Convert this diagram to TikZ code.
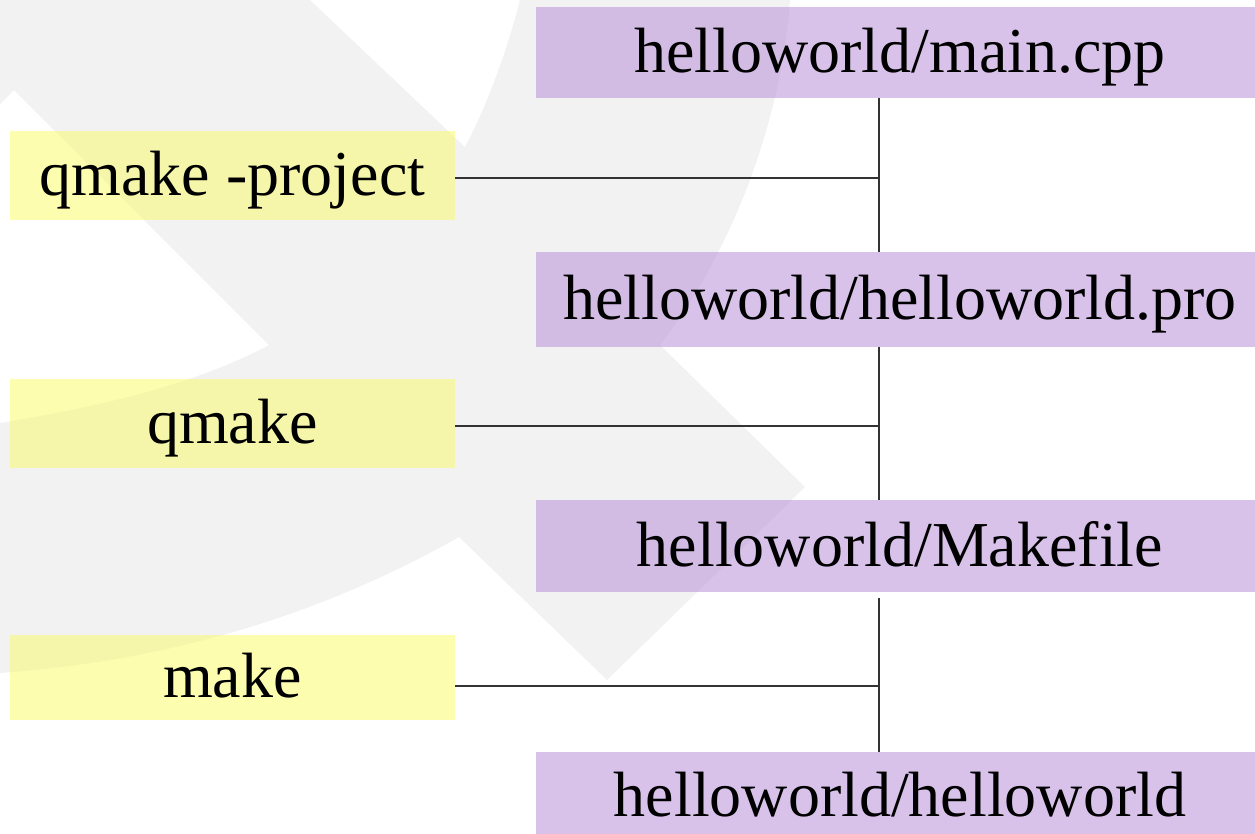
\documentclass[tikz,border=0pt]{standalone}
\usepackage{fontspec}
\setmainfont{Liberation Serif}
\begin{document}
\begin{tikzpicture}[x=1pt,y=-1pt,
  boxtext/.style={inner sep=0pt, text height=54pt, text depth=14pt, font=\fontsize{64}{76}\selectfont},
  filebox/.style={boxtext, fill={rgb,255:red,184;green,144;blue,217}, fill opacity=0.55, text opacity=1, minimum width=728pt},
  cmdbox/.style={boxtext, fill={rgb,255:red,251;green,251;blue,111}, fill opacity=0.55, text opacity=1, minimum width=445pt},
  link/.style={draw=black!80, line width=1.2pt}]
\useasboundingbox (0,0) rectangle (1255,833);
% watermark
\fill[black!5] (0,0) -- (310,0) -- (465,147) .. controls (490,100) and (510,40) .. (520,0) -- (790,0)
  .. controls (782,110) and (740,240) .. (660,345) -- (805,487) -- (607,680) -- (459,537)
  .. controls (330,610) and (180,660) .. (0,673) -- (0,423)
  .. controls (110,405) and (200,382) .. (269,345) -- (14,90) -- (0,104) -- cycle;
% file boxes
\node[filebox, minimum height=91pt] (p1) at (900,52.5) {helloworld/main.cpp};
\node[filebox, minimum height=95pt] (p2) at (900,299.5) {helloworld/helloworld.pro};
\node[filebox, minimum height=92pt] (p3) at (900,546) {helloworld/Makefile};
\node[filebox, minimum height=88pt] (p4) at (900,796) {helloworld/helloworld};
% command boxes
\node[cmdbox, minimum height=89pt] (c1) at (232.5,175.5) {qmake -project};
\node[cmdbox, minimum height=89pt] (c2) at (232.5,423.5) {qmake};
\node[cmdbox, minimum height=85pt] (c3) at (232.5,677.5) {make};
% junctions
\coordinate (j1) at (879,178);
\coordinate (j2) at (879,426);
\coordinate (j3) at (879,686);
% connectors
\draw[link] (j1 |- p1.south) -- (j1 |- p2.north);
\draw[link] (j2 |- p2.south) -- (j2 |- p3.north);
\draw[link, shorten <=6pt] (j3 |- p3.south) -- (j3 |- p4.north);
\draw[link] (c1.east |- j1) -- (j1);
\draw[link] (c2.east |- j2) -- (j2);
\draw[link] (c3.east |- j3) -- (j3);
\end{tikzpicture}
\end{document}
